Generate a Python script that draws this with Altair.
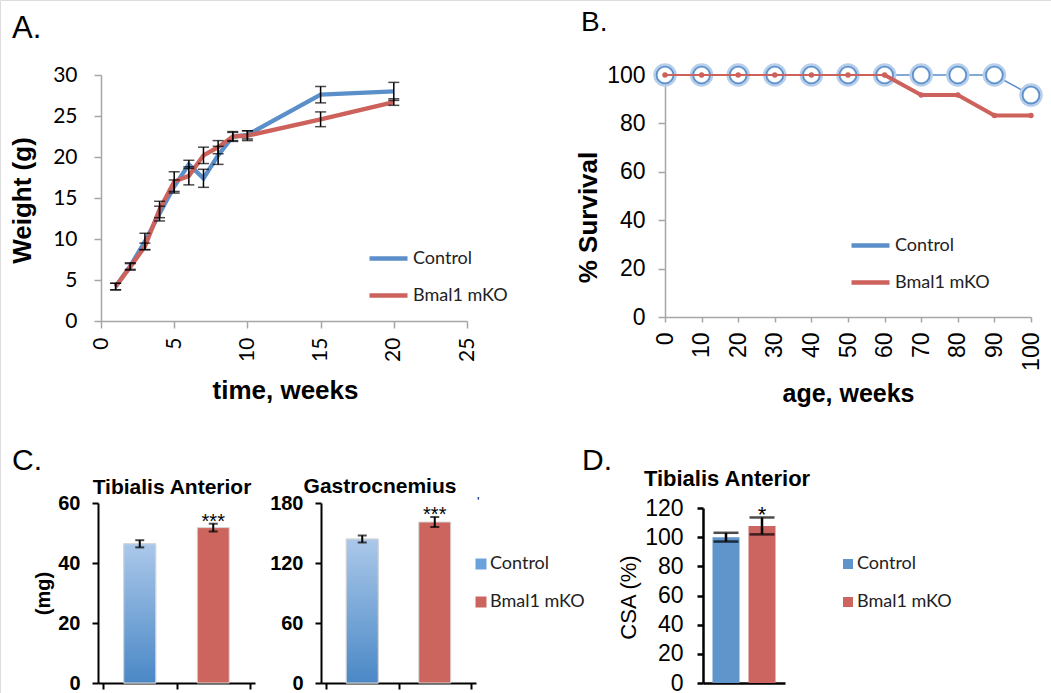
import altair as alt
import pandas as pd

# ---------------- data ----------------
groups = ["Control", "Bmal1 mKO"]

# Panel A: body weight
weeks = [1, 2, 3, 4, 5, 6, 7, 8, 9, 10, 15, 20]
ctrl_weight = [4.2, 6.7, 9.7, 13.1, 16.4, 19.1, 17.4, 20.2, 22.5, 22.7, 27.6, 28.0]
ctrl_weight_err = [0.4, 0.4, 1.0, 0.9, 0.8, 0.5, 1.1, 1.1, 0.6, 0.5, 1.0, 1.1]
mko_weight = [4.2, 6.6, 9.1, 13.6, 17.0, 17.7, 20.2, 21.2, 22.5, 22.6, 24.6, 26.7]
mko_weight_err = [0.4, 0.4, 0.4, 1.0, 1.2, 1.1, 1.0, 0.8, 0.5, 0.6, 0.9, 0.4]
weight_ticks = [0, 5, 10, 15, 20, 25, 30]
week_ticks = [0, 5, 10, 15, 20, 25]

# Panel B: survival
ages = [0, 10, 20, 30, 40, 50, 60, 70, 80, 90, 100]
ctrl_surv = [100, 100, 100, 100, 100, 100, 100, 100, 100, 100, 91.7]
mko_surv = [100, 100, 100, 100, 100, 100, 100, 91.7, 91.7, 83.3, 83.3]
surv_ticks = [0, 20, 40, 60, 80, 100]

# Panel C: muscle mass
ta_mass = [46.4, 51.8]
ta_mass_err = [1.2, 1.3]
gas_mass = [144, 161]
gas_mass_err = [3.5, 5.0]
stars_c = ["", "***"]
ta_ticks = [0, 20, 40, 60]
gas_ticks = [0, 60, 120, 180]

# Panel D: CSA
csa = [100, 107.7]
csa_err = [3.0, 5.8]
stars_d = ["", "*"]
csa_ticks = [0, 20, 40, 60, 80, 100, 120]

# ---------------- styles ----------------
W, H = 1051, 693
FONT_C = "Lato"
FONT_H = "Liberation Sans"
BLUE = "#5b8fc9"
RED = "#cd615b"
GRAY = "#a6a6a6"

# ---------------- tables ----------------
dfA = pd.DataFrame({
    "group": [groups[0]] * len(weeks) + [groups[1]] * len(weeks),
    "week": weeks + weeks,
    "weight": ctrl_weight + mko_weight,
    "err": ctrl_weight_err + mko_weight_err,
})
dfA["lo"] = dfA["weight"] - dfA["err"]
dfA["hi"] = dfA["weight"] + dfA["err"]

dfB = pd.DataFrame({
    "group": [groups[0]] * len(ages) + [groups[1]] * len(ages),
    "age": ages + ages,
    "surv": ctrl_surv + mko_surv,
})

dfC = pd.DataFrame({
    "group": groups,
    "pos": [i + 0.5 for i in range(len(groups))],
    "ta": ta_mass, "ta_err": ta_mass_err,
    "gas": gas_mass, "gas_err": gas_mass_err,
    "star": stars_c,
})
dfC["ta_lo"] = dfC["ta"] - dfC["ta_err"]
dfC["ta_hi"] = dfC["ta"] + dfC["ta_err"]
dfC["gas_lo"] = dfC["gas"] - dfC["gas_err"]
dfC["gas_hi"] = dfC["gas"] + dfC["gas_err"]

dfD = pd.DataFrame({
    "group": groups,
    "pos": [i + 0.5 for i in range(len(groups))],
    "csa": csa, "err": csa_err, "star": stars_d,
})
dfD["lo"] = dfD["csa"] - dfD["err"]
dfD["hi"] = dfD["csa"] + dfD["err"]


def axis(orient, offset, values, **kw):
    base = dict(orient=orient, offset=offset, values=values, grid=False,
                labelOverlap=False, labelFlush=False, labelBound=False,
                labelColor="black", titleColor="black")
    base.update(kw)
    return alt.Axis(**base)


def line_legend(x, y):
    return alt.Legend(title=None, orient="none", legendX=x, legendY=y,
                      symbolType="stroke", symbolSize=1444, symbolStrokeWidth=4.5,
                      labelFont=FONT_C, labelFontSize=18, labelOffset=3,
                      labelColor="#222222", rowPadding=6, padding=0)


def box_legend(x, y, size):
    return alt.Legend(title=None, orient="none", legendX=x, legendY=y,
                      symbolType="square", symbolSize=size, symbolStrokeWidth=0,
                      labelFont=FONT_C, labelFontSize=18, labelOffset=0,
                      labelColor="#222222", rowPadding=20, padding=0)


# ---------------- Panel A ----------------
xA = alt.Scale(domain=[0, 25], range=[101, 467], nice=False, zero=False)
yA = alt.Scale(domain=[0, 30], range=[321, 75], nice=False)
colA = alt.Scale(domain=groups, range=[BLUE, RED])
axA_x = axis("bottom", 321 - H, week_ticks, labelAngle=270, labelFont=FONT_C,
             labelFontSize=21, labelPadding=9, tickSize=7, tickWidth=1.5,
             tickColor=GRAY, domainColor=GRAY, domainWidth=1.5,
             title="time, weeks", titleFont=FONT_H, titleFontSize=26,
             titleFontWeight="bold", titleX=285, titleY=77, titleAlign="center",
             titleBaseline="alphabetic", titleAngle=0)
axA_y = axis("left", -101, weight_ticks, labelFont=FONT_C, labelFontSize=21,
             labelPadding=17, tickSize=7, tickWidth=1.5, tickColor=GRAY,
             domainColor=GRAY, domainWidth=1.5, title="Weight (g)",
             titleFont=FONT_H, titleFontSize=26, titleFontWeight="bold",
             titleAngle=270, titleX=-79, titleY=200, titleAlign="center",
             titleBaseline="middle")
legA = line_legend(367, 237)


def xa(f="week"):
    return alt.X(f"{f}:Q", scale=xA, axis=axA_x)


def ya(f):
    return alt.Y(f"{f}:Q", scale=yA, axis=axA_y)


baseA = alt.Chart(dfA)
lineA_c = baseA.transform_filter(alt.datum.group == groups[0]).mark_line(strokeWidth=4.3).encode(
    x=xa(), y=ya("weight"),
    color=alt.Color("group:N", scale=colA, legend=legA),
)
lineA_m = baseA.transform_filter(alt.datum.group == groups[1]).mark_line(strokeWidth=4.3).encode(
    x=xa(), y=ya("weight"),
    color=alt.Color("group:N", scale=colA, legend=legA),
)
errA = baseA.mark_rule(color="black", strokeWidth=1.5).encode(x=xa(), y=ya("lo"), y2="hi:Q")
capA_lo = baseA.mark_tick(orient="horizontal", size=11, thickness=1.5, color="black").encode(
    x=xa(), y=ya("lo"))
capA_hi = baseA.mark_tick(orient="horizontal", size=11, thickness=1.5, color="black").encode(
    x=xa(), y=ya("hi"))
panelA = alt.layer(lineA_c, lineA_m, errA, capA_lo, capA_hi)

# ---------------- Panel B ----------------
xB = alt.Scale(domain=[0, 100], range=[665, 1031], nice=False, zero=False)
yB = alt.Scale(domain=[0, 100], range=[317, 75], nice=False)
colB = alt.Scale(domain=groups, range=[BLUE, RED])
axB_x = axis("bottom", 317 - H, ages, labelAngle=270, labelFont=FONT_H,
             labelFontSize=23, labelPadding=10, tickSize=5, tickWidth=1.5,
             tickColor=GRAY, domainColor=GRAY, domainWidth=1.5,
             title="age, weeks", titleFont=FONT_H, titleFontSize=25,
             titleFontWeight="bold", titleX=848, titleY=84, titleAlign="center",
             titleBaseline="alphabetic", titleAngle=0)
axB_y = axis("left", -665, surv_ticks, labelFont=FONT_H, labelFontSize=23,
             labelPadding=13, tickSize=7, tickWidth=1.5, tickColor=GRAY,
             domainColor=GRAY, domainWidth=1.5, title="% Survival",
             titleFont=FONT_H, titleFontSize=26, titleFontWeight="bold",
             titleAngle=270, titleX=-77, titleY=217, titleAlign="center",
             titleBaseline="middle")
legB = line_legend(849, 224)


def xb():
    return alt.X("age:Q", scale=xB, axis=axB_x)


def yb():
    return alt.Y("surv:Q", scale=yB, axis=axB_y)


baseB = alt.Chart(dfB)
ctrlB = baseB.transform_filter(alt.datum.group == groups[0])
mkoB = baseB.transform_filter(alt.datum.group == groups[1])
lineB_c = ctrlB.mark_line(strokeWidth=1.5).encode(
    x=xb(), y=yb(), color=alt.Color("group:N", scale=colB, legend=legB))
glowB = ctrlB.mark_circle(size=360, fill="white", fillOpacity=1, stroke="#b7cfeb",
                          strokeWidth=4.5, opacity=1).encode(x=xb(), y=yb())
ringB = ctrlB.mark_point(shape="circle", filled=False, size=290, color=BLUE,
                         strokeWidth=1.6, opacity=1).encode(x=xb(), y=yb())
lineB_m = mkoB.mark_line(strokeWidth=2).encode(
    x=xb(), y=yb(), color=alt.Color("group:N", scale=colB, legend=legB))
lineB_m2 = mkoB.transform_filter(alt.datum.age >= 60).mark_line(strokeWidth=4).encode(
    x=xb(), y=yb(), color=alt.Color("group:N", scale=colB, legend=legB))
dotB = mkoB.mark_circle(size=30, color=RED, opacity=1).encode(x=xb(), y=yb())
panelB = alt.layer(lineB_c, glowB, ringB, lineB_m, lineB_m2, dotB)

# ---------------- Panel C ----------------
grad = alt.Gradient(gradient="linear",
                    stops=[alt.GradientStop(color="#abc8ea", offset=0),
                           alt.GradientStop(color="#4a88c6", offset=1)],
                    x1=0, x2=0, y1=0, y2=1)
colC = alt.Scale(domain=groups, range=["#6aa2dc", "#cd655f"])


def bar_panel(df, val, lo, hi, xscale, yscale, xaxis, yaxis, legend, star_size):
    base = alt.Chart(df)

    def xe():
        return alt.X("pos:Q", scale=xscale, axis=xaxis)

    def ye(f):
        return alt.Y(f"{f}:Q", scale=yscale, axis=yaxis)

    bars = base.mark_bar(size=32, orient="vertical", stroke="#d8d8d8", strokeWidth=1).encode(
        x=xe(), y=ye(val), color=alt.Color("group:N", scale=colC, legend=legend))
    gbar = base.transform_filter(alt.datum.group == groups[0]).mark_bar(
        size=32, orient="vertical", fill=grad, stroke="#d8d8d8", strokeWidth=1).encode(
        x=xe(), y=ye(val))
    err = base.mark_rule(color="black", strokeWidth=2).encode(x=xe(), y=ye(lo), y2=f"{hi}:Q")
    clo = base.mark_tick(orient="horizontal", size=9, thickness=2, color="black").encode(
        x=xe(), y=ye(lo))
    chi = base.mark_tick(orient="horizontal", size=9, thickness=2, color="black").encode(
        x=xe(), y=ye(hi))
    star = base.mark_text(font=FONT_H, fontSize=star_size, baseline="alphabetic", dy=4,
                          color="black").encode(x=xe(), y=ye(hi), text="star:N")
    return alt.layer(bars, gbar, err, clo, chi, star)


xC1 = alt.Scale(domain=[0, 2], range=[98, 255], nice=False, zero=False)
yC1 = alt.Scale(domain=[0, 60], range=[683, 503], nice=False)
xC2 = alt.Scale(domain=[0, 2], range=[321, 476], nice=False, zero=False)
yC2 = alt.Scale(domain=[0, 180], range=[683, 503], nice=False)


def c_xaxis():
    return axis("bottom", 683 - H, [0, 1, 2], labels=False, tickSize=6, tickWidth=2,
                tickColor="black", domainColor="black", domainWidth=2, title=None)


def c_yaxis(values, off, **kw):
    return axis("left", off, values, labelFont=FONT_H, labelFontSize=20,
                labelFontWeight="bold", labelPadding=12, tickSize=6, tickWidth=2,
                tickColor="black", domainColor="black", domainWidth=2, **kw)


axC1_y = c_yaxis(ta_ticks, -98, title="(mg)", titleFont=FONT_H, titleFontSize=20,
                 titleFontWeight="bold", titleAngle=270, titleX=-55, titleY=593,
                 titleAlign="center", titleBaseline="middle")
axC2_y = c_yaxis(gas_ticks, -321, title=None)

panelC1 = bar_panel(dfC, "ta", "ta_lo", "ta_hi", xC1, yC1, c_xaxis(), axC1_y, None, 20)
panelC2 = bar_panel(dfC, "gas", "gas_lo", "gas_hi", xC2, yC2, c_xaxis(), axC2_y,
                    box_legend(472, 555, 121), 20)

# ---------------- Panel D ----------------
xD = alt.Scale(domain=[0, 2], range=[703, 785], nice=False, zero=False)
yD = alt.Scale(domain=[0, 120], range=[683, 508], nice=False)
colD = alt.Scale(domain=groups, range=["#5f95ca", "#cc655f"])
axD_x = axis("bottom", 683 - H, [0, 1, 2], labels=False, ticks=False,
             domainColor="black", domainWidth=2.5, title=None)
axD_y = axis("left", -703, csa_ticks, labelFont=FONT_H, labelFontSize=23,
             labelPadding=14, tickSize=6, tickWidth=2.5, tickColor="black",
             domainColor="black", domainWidth=2.5, title="CSA (%)",
             titleFont=FONT_H, titleFontSize=22, titleFontWeight="normal",
             titleAngle=270, titleX=-75, titleY=597, titleAlign="center",
             titleBaseline="middle")


def xd():
    return alt.X("pos:Q", scale=xD, axis=axD_x)


def yd(f):
    return alt.Y(f"{f}:Q", scale=yD, axis=axD_y)


baseD = alt.Chart(dfD)
barsD = baseD.mark_bar(size=27, orient="vertical").encode(
    x=xd(), y=yd("csa"),
    color=alt.Color("group:N", scale=colD, legend=box_legend(839, 555, 100)))
errD = baseD.mark_rule(color="black", strokeWidth=2.5).encode(x=xd(), y=yd("lo"), y2="hi:Q")
capD_lo = baseD.mark_tick(orient="horizontal", size=25, thickness=2.5, color="black").encode(
    x=xd(), y=yd("lo"))
capD_hi = baseD.mark_tick(orient="horizontal", size=25, thickness=2.5, color="black").encode(
    x=xd(), y=yd("hi"))
starD = baseD.mark_text(font=FONT_H, fontSize=22, baseline="alphabetic", dy=5,
                        color="black").encode(x=xd(), y=yd("hi"), text="star:N")
panelD = alt.layer(barsD, errD, capD_lo, capD_hi, starD)


# ---------------- annotations ----------------
def label(txt, x, y, size, weight="normal", align="left"):
    return alt.Chart(pd.DataFrame({"t": [txt]})).mark_text(
        align=align, baseline="alphabetic", font=FONT_H, fontSize=size,
        fontWeight=weight, color="black").encode(
        text="t:N", x=alt.value(x), y=alt.value(y))


labels = [
    label("A.", 12, 38, 31),
    label("B.", 581, 31, 28),
    label("C.", 12, 470, 30),
    label("D.", 582, 470, 30),
    label("Tibialis Anterior", 172, 494, 21, "bold", "center"),
    label("Gastrocnemius", 380, 493, 21, "bold", "center"),
    label("Tibialis Anterior", 727, 486, 22, "bold", "center"),
    label("'", 477, 506, 13),
]

chart = alt.layer(panelA, panelB, panelC1, panelC2, panelD, *labels).resolve_scale(
    x="independent", y="independent", color="independent"
).properties(
    width=W, height=H, padding=0, autosize=alt.AutoSizeParams(type="none")
).configure_view(stroke=None).configure(background="white")

chart.save("out.html", embed_options={"renderer": "svg", "actions": False})
